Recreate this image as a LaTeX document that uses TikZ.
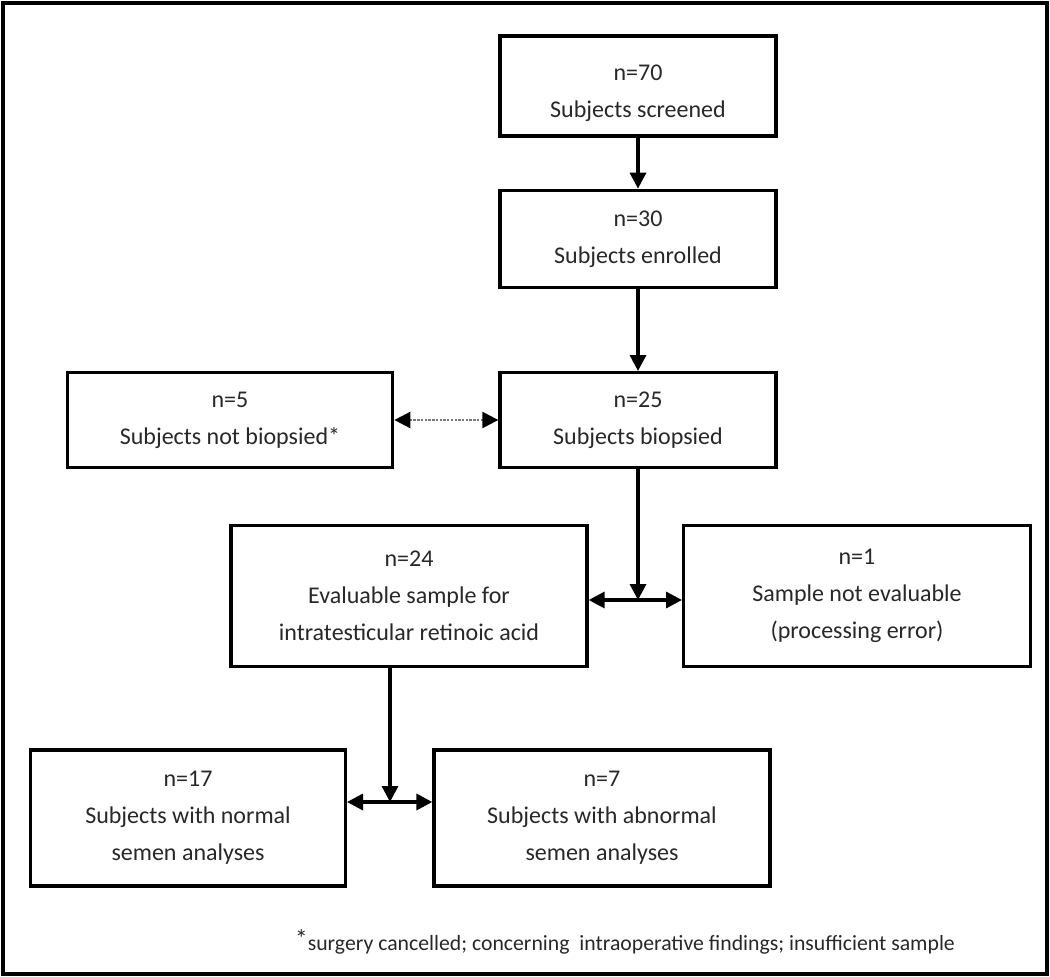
\documentclass[tikz,border=0pt]{standalone}
\usepackage{fontspec}
\setmainfont{Carlito}
\usetikzlibrary{positioning,calc,arrows.meta}
\definecolor{FlowText}{RGB}{40,40,40}
\definecolor{FlowDot}{RGB}{120,120,120}
\tikzset{
    stagebox/.style={draw=black, fill=white, rectangle, line width=2.5pt,
                     align=center, sharp corners, text=FlowText,
                     font=\fontsize{18}{27.75}\selectfont, inner sep=0pt},
    % Arrow styles
    flow/.style={->, >={Triangle[length=12pt,width=12pt]}, line width=2.5pt},
    split/.style={<->, >={Triangle[length=12pt,width=12pt]}, line width=2.5pt},
    excluded/.style={<->, >={Triangle[length=12pt,width=12pt,color=black]},
                     densely dotted, draw=FlowDot, line width=1.8pt}
}
\begin{document}
\begin{tikzpicture}[x=0.75pt, y=-0.75pt]
            \useasboundingbox (0,0) rectangle (1050,977);
            \draw[line width=3pt] (3,3) rectangle (1047,974);

            % Main column
            \node[stagebox, minimum width=207pt, minimum height=75pt, text height=50pt] (screened) at (638,86) {n=70\\Subjects screened};
            \node[stagebox, minimum width=207pt, minimum height=73pt] (enrolled) at (638,239) {n=30\\Subjects enrolled};
            \node[stagebox, minimum width=207pt, minimum height=71pt] (biopsied) at (638,420) {n=25\\Subjects biopsied};
            \node[stagebox, minimum width=244pt, minimum height=71pt] (notbiopsied) at (230,420) {n=5\\Subjects not biopsied*};

            % Sample evaluation
            \node[stagebox, minimum width=267pt, minimum height=106pt] (evaluable) at (409,596) {n=24\\Evaluable sample for\\intratesticular retinoic acid};
            \node[stagebox, minimum width=260pt, minimum height=106pt] (notevaluable) at (857,596) {n=1\\Sample not evaluable\\(processing error)};

            % Semen analyses
            \node[stagebox, minimum width=236pt, minimum height=102pt] (normal) at (188,818) {n=17\\Subjects with normal\\semen analyses};
            \node[stagebox, minimum width=252pt, minimum height=102pt] (abnormal) at (602,818) {n=7\\Subjects with abnormal\\semen analyses};

            % Footnote
            \node[text=FlowText, font=\fontsize{16.3}{18}\selectfont, inner sep=0pt] (note) at (625,942)
                {\raisebox{2pt}{\fontsize{19}{19}\selectfont*}surgery cancelled; concerning\ \ intraoperative findings; insufficient sample};

            % Arrows
            \draw[flow] (screened) -- (enrolled);
            \draw[flow] (enrolled) -- (biopsied);
            \draw[excluded] (notbiopsied) -- (biopsied);

            \coordinate (join1) at (638,600);
            \draw[flow] (biopsied) -- (join1);
            \draw[split] (evaluable.east |- join1) -- (notevaluable.west |- join1);

            \coordinate (join2) at (390,802);
            \draw[flow] (evaluable.south -| join2) -- (join2);
            \draw[split] (normal.east |- join2) -- (abnormal.west |- join2);
        \end{tikzpicture}
\end{document}
